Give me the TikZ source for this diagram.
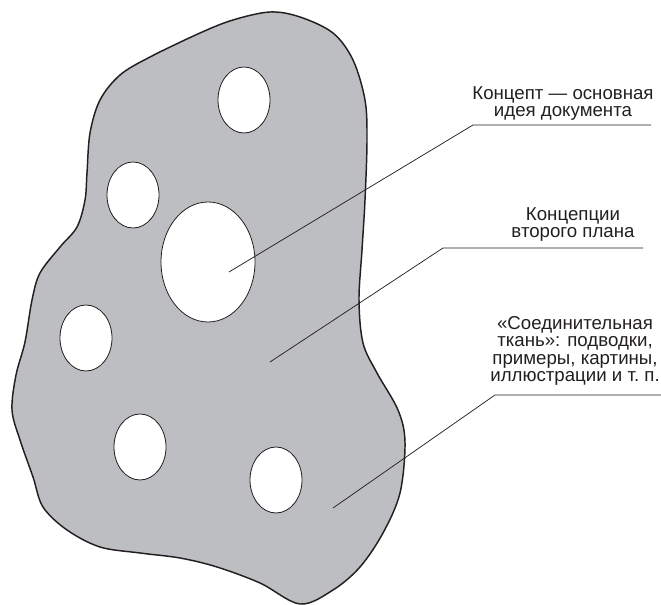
\documentclass[tikz,border=0pt]{standalone}
\usepackage{fontspec}
\setmainfont{Liberation Sans}
\usepackage{xcolor}
\usepackage{tikz}
\usetikzlibrary{shapes.geometric}

\definecolor{blobgray}{RGB}{189,190,193}
\definecolor{inkgray}{RGB}{35,31,32}

\begin{document}
\begin{tikzpicture}[
    x=0.75pt, y=-0.75pt,
    blob/.style={draw=inkgray, line width=1.1pt, fill=blobgray},
    hole/.style={draw=inkgray, ellipse, fill=white, line width=0.6pt,
                 inner sep=0pt, minimum width=39pt, minimum height=49.5pt},
    leader/.style={draw=inkgray, line width=0.55pt},
    note/.style={align=center, inner sep=0pt, text depth=0pt, anchor=south,
                 text=inkgray, font=\fontsize{14}{13.1}\selectfont}
  ]
    \useasboundingbox (0,0) rectangle (661,605);

    \draw[blob] plot[smooth cycle, tension=0.55] coordinates {
      (270,12) (300,17) (333,33) (353,60) (365,100) (367,140) (365,200)
      (362,250) (359,300) (363,343) (377,373) (398,410) (405,442) (400,493)
      (383,533) (360,567) (333,590) (300,604) (260,583) (217,567) (180,558)
      (140,553) (100,547) (67,530) (43,507) (33,477) (20,440) (12,410)
      (16,375) (25,342) (32,300) (40,273) (60,247) (77,227) (85,200)
      (87,173) (90,133) (100,100) (120,75) (150,57) (200,33) (233,20)};

    \node[hole] (tophole)   at (244,100) {};
    \node[hole] (uphole)    at (133,195) {};
    \node[hole, minimum width=70.5pt, minimum height=90pt] (idea) at (208,262) {};
    \node[hole] (lefthole)  at (86,338)  {};
    \node[hole] (lowhole)   at (140,447) {};
    \node[hole] (righthole) at (276,480) {};

    \coordinate (ideapt)  at (229,272);
    \coordinate (ideakn)  at (473,125);
    \coordinate (ideaend) at (651,125);
    \coordinate (backpt)  at (270,362);
    \coordinate (backkn)  at (443,248);
    \coordinate (backend) at (643,248);
    \coordinate (tisspt)  at (333,508);
    \coordinate (tisskn)  at (495,395);
    \coordinate (tissend) at (661,395);

    \node[note] (concept) at (563,117) {Концепт — основная\\идея документа};
    \node[note] (backgr)  at (573,238) {Концепции\\второго плана};
    \node[note] (tissue)  at (575,382) {«Соединительная\\ткань»: подводки,\\примеры, картины,\\иллюстрации и т.\ п.};

    \draw[leader] (ideapt) -- (ideakn) -- (ideaend);
    \draw[leader] (backpt) -- (backkn) -- (backend);
    \draw[leader] (tisspt) -- (tisskn) -- (tissend);
  \end{tikzpicture}
\end{document}
